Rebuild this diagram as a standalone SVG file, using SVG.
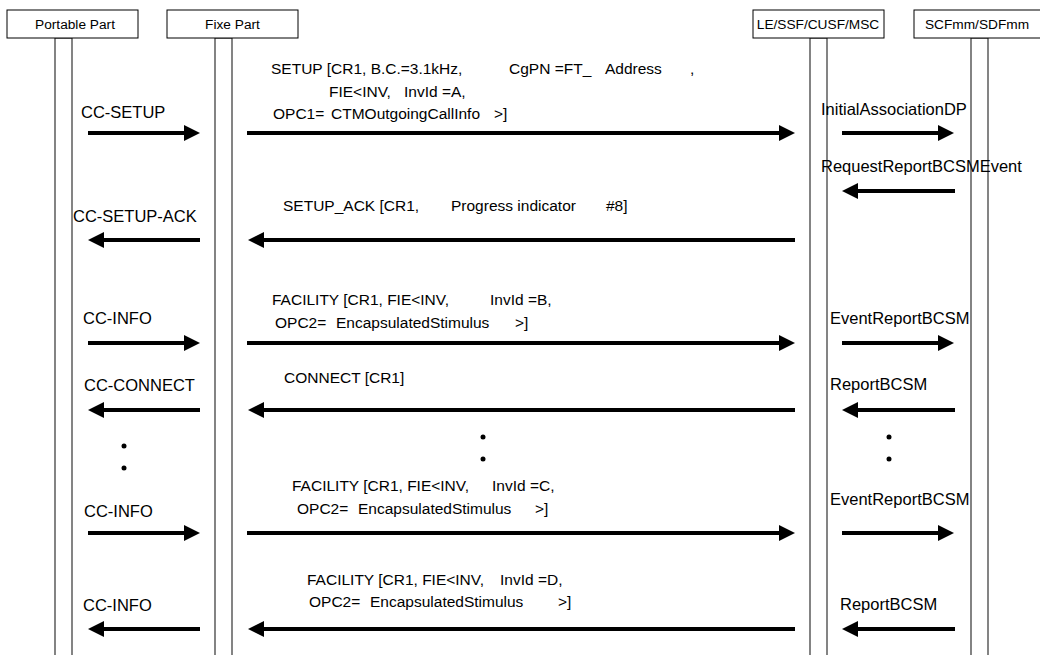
<svg xmlns="http://www.w3.org/2000/svg" width="1040" height="655" viewBox="0 0 1040 655">
<style>
.box{fill:#fff;stroke:#000;stroke-width:1}
.life{fill:#fff;stroke:#333;stroke-width:1.2}
.hd{font-family:"Liberation Sans",Arial,sans-serif;font-size:13.7px;fill:#000;text-anchor:middle}
.t{font-family:"Liberation Sans",Arial,sans-serif;font-size:16.5px;fill:#000}
.m{font-family:"Liberation Sans",Arial,sans-serif;font-size:15.5px;fill:#000}
.ar{stroke:#000;stroke-width:4;fill:none;marker-end:url(#ah)}
.dot{fill:#000}
</style>
<defs>
<marker id="ah" markerUnits="userSpaceOnUse" markerWidth="16" markerHeight="16" viewBox="0 0 16 16" refX="6" refY="8" orient="auto"><path d="M0,0 L16,8 L0,16 z" fill="#000"/></marker>
</defs>
<rect width="1040" height="655" fill="#fff"/>
<g id="portable-part">
<rect class="life" x="55" y="38" width="17" height="630"/>
<rect class="box" x="7" y="10" width="131" height="28"/>
<text class="hd" x="75" y="29">Portable Part</text>
</g>
<g id="fixe-part">
<rect class="life" x="215" y="38" width="17" height="630"/>
<rect class="box" x="167" y="10" width="131" height="28"/>
<text class="hd" x="232.5" y="29">Fixe Part</text>
</g>
<g id="le-ssf-cusf-msc">
<rect class="life" x="810" y="38" width="17" height="630"/>
<rect class="box" x="753" y="10" width="131" height="28"/>
<text class="hd" x="818" y="29">LE/SSF/CUSF/MSC</text>
</g>
<g id="scfmm-sdfmm">
<rect class="life" x="971" y="38" width="17" height="630"/>
<rect class="box" x="914" y="10" width="131" height="28"/>
<text class="hd" x="977" y="29">SCFmm/SDFmm</text>
</g>
<g id="connectors">
<g id="m-cc-setup">
<text class="t" x="81" y="118">CC-SETUP</text>
<line class="ar" x1="88" y1="133" x2="190" y2="133"/>
</g>
<g id="m-setup">
<text class="m" y="74"><tspan x="271">SETUP [CR1, B.C.=3.1kHz,</tspan><tspan x="509">CgPN =FT_</tspan><tspan x="605">Address</tspan><tspan x="690">,</tspan></text>
<text class="m" y="97"><tspan x="329">FIE&lt;INV,</tspan><tspan x="404">InvId =A,</tspan></text>
<text class="m" y="119"><tspan x="273">OPC1=</tspan><tspan x="331">CTMOutgoingCallInfo</tspan><tspan x="494">&gt;]</tspan></text>
<line class="ar" x1="247" y1="133" x2="785" y2="133"/>
</g>
<g id="m-initial-association">
<text class="t" x="821" y="115">InitialAssociationDP</text>
<line class="ar" x1="842" y1="133" x2="944" y2="133"/>
</g>
<g id="m-request-report">
<text class="t" x="821" y="172">RequestReportBCSMEvent</text>
<line class="ar" x1="955" y1="191" x2="852" y2="191"/>
</g>
<g id="m-cc-setup-ack">
<text class="t" x="73" y="222">CC-SETUP-ACK</text>
<line class="ar" x1="200" y1="240" x2="98" y2="240"/>
</g>
<g id="m-setup-ack">
<text class="m" y="211"><tspan x="283">SETUP_ACK [CR1,</tspan><tspan x="451">Progress indicator</tspan><tspan x="606">#8]</tspan></text>
<line class="ar" x1="795" y1="240" x2="258" y2="240"/>
</g>
<g id="m-cc-info-1">
<text class="t" x="83" y="324">CC-INFO</text>
<line class="ar" x1="88" y1="343" x2="190" y2="343"/>
</g>
<g id="m-facility-b">
<text class="m" y="305"><tspan x="272">FACILITY [CR1,  FIE&lt;INV,</tspan><tspan x="490">InvId =B,</tspan></text>
<text class="m" y="328"><tspan x="275">OPC2=</tspan><tspan x="336">EncapsulatedStimulus</tspan><tspan x="515">&gt;]</tspan></text>
<line class="ar" x1="247" y1="343" x2="785" y2="343"/>
</g>
<g id="m-event-report-1">
<text class="t" x="830" y="324">EventReportBCSM</text>
<line class="ar" x1="842" y1="343" x2="944" y2="343"/>
</g>
<g id="m-cc-connect">
<text class="t" x="84" y="391">CC-CONNECT</text>
<line class="ar" x1="200" y1="410" x2="98" y2="410"/>
</g>
<g id="m-connect">
<text class="m" x="284" y="383">CONNECT [CR1]</text>
<line class="ar" x1="795" y1="410" x2="258" y2="410"/>
</g>
<g id="m-report-1">
<text class="t" x="830" y="390">ReportBCSM</text>
<line class="ar" x1="955" y1="410" x2="852" y2="410"/>
</g>
<g id="continuation-dots">
<circle class="dot" cx="124" cy="446" r="2.5"/>
<circle class="dot" cx="124" cy="468" r="2.5"/>
<circle class="dot" cx="483" cy="437" r="2.5"/>
<circle class="dot" cx="483" cy="459" r="2.5"/>
<circle class="dot" cx="889" cy="437" r="2.5"/>
<circle class="dot" cx="889" cy="459" r="2.5"/>
</g>
<g id="m-cc-info-2">
<text class="t" x="84" y="517">CC-INFO</text>
<line class="ar" x1="88" y1="533" x2="190" y2="533"/>
</g>
<g id="m-facility-c">
<text class="m" y="491"><tspan x="292">FACILITY [CR1, FIE&lt;INV,</tspan><tspan x="492">InvId =C,</tspan></text>
<text class="m" y="514"><tspan x="297">OPC2=</tspan><tspan x="358">EncapsulatedStimulus</tspan><tspan x="535">&gt;]</tspan></text>
<line class="ar" x1="247" y1="533" x2="785" y2="533"/>
</g>
<g id="m-event-report-2">
<text class="t" x="830" y="505">EventReportBCSM</text>
<line class="ar" x1="842" y1="533" x2="944" y2="533"/>
</g>
<g id="m-cc-info-3">
<text class="t" x="83" y="611">CC-INFO</text>
<line class="ar" x1="200" y1="629" x2="98" y2="629"/>
</g>
<g id="m-facility-d">
<text class="m" y="585"><tspan x="307">FACILITY [CR1, FIE&lt;INV,</tspan><tspan x="500">InvId =D,</tspan></text>
<text class="m" y="607"><tspan x="309">OPC2=</tspan><tspan x="370">EncapsulatedStimulus</tspan><tspan x="558">&gt;]</tspan></text>
<line class="ar" x1="795" y1="629" x2="258" y2="629"/>
</g>
<g id="m-report-2">
<text class="t" x="840" y="610">ReportBCSM</text>
<line class="ar" x1="955" y1="629" x2="852" y2="629"/>
</g>
</g>
</svg>
